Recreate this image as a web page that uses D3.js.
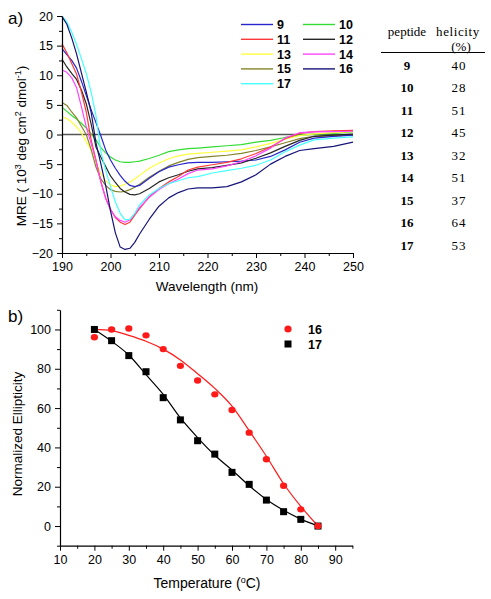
<!DOCTYPE html>
<html><head><meta charset="utf-8">
<script src="https://cdn.jsdelivr.net/npm/d3@7/dist/d3.min.js"></script>
<style>body{margin:0;background:#fff}svg{display:block}</style>
</head><body><svg id="c" width="491" height="599"></svg>
<script>
// ---------- data: panel a (CD spectra) ----------
const wavelengths=[190,191,192,193,194,195,196,197,198,199,200,201,202,203,204,205,206,208,210,212,214,216,218,221,224,227,230,233,236,239,242,246,250];
const mre9 =[14.5,13.5,12.5,11.2,9.0,6.6,4.2,2.0,-0.2,-2.6,-4.3,-5.7,-6.9,-7.9,-8.6,-8.8,-8.6,-7.4,-6.3,-5.5,-5.1,-4.8,-4.7,-4.7,-4.6,-4.5,-4.3,-3.7,-2.6,-1.3,-0.6,-0.3,-0.1];
const mre10=[4.6,3.9,3.2,2.6,1.9,1.1,0.1,-0.9,-2.2,-3.1,-3.8,-4.3,-4.6,-4.7,-4.7,-4.6,-4.5,-4.05,-3.5,-2.9,-2.6,-2.4,-2.3,-2.1,-1.9,-1.7,-1.3,-1.0,-0.5,-0.1,0.05,0.2,0.45];
const mre11=[15.3,13.8,12.0,10.2,7.2,3.8,-0.9,-4.3,-7.9,-10.7,-12.6,-14.0,-14.8,-15.2,-14.8,-13.6,-12.5,-10.5,-9.1,-8.0,-7.1,-6.0,-5.5,-5.1,-4.7,-4.1,-3.2,-2.1,-0.7,0.2,0.5,0.6,0.7];
const mre12=[12.7,11.4,10.3,9.3,7.5,5.2,1.8,-2.1,-3.8,-5.4,-7.0,-8.1,-9.1,-9.7,-10.1,-10.2,-10.0,-9.1,-8.0,-7.3,-6.8,-6.2,-5.8,-5.6,-5.2,-4.8,-4.0,-3.1,-2.0,-1.0,-0.3,-0.1,0.05];
const mre13=[3.0,2.7,2.1,1.3,0.3,-1.2,-2.6,-4.6,-6.6,-7.8,-8.5,-8.8,-8.7,-8.4,-8.0,-7.5,-6.9,-5.7,-4.8,-4.1,-3.6,-3.3,-3.2,-3.0,-2.8,-2.6,-2.1,-1.5,-0.8,-0.2,0.1,0.3,0.5];
const mre14=[10.9,10.5,9.6,7.9,4.7,1.3,-1.5,-4.4,-8.0,-10.8,-12.7,-13.9,-14.5,-14.8,-14.4,-13.4,-12.3,-10.6,-9.3,-8.3,-7.5,-6.6,-6.0,-5.8,-5.3,-4.6,-3.6,-2.3,-0.6,0.3,0.45,0.5,0.55];
const mre15=[5.4,4.9,3.8,2.8,1.4,0.0,-2.5,-5.5,-7.5,-8.6,-9.3,-9.6,-9.7,-9.6,-9.3,-8.9,-8.4,-7.2,-6.2,-5.3,-4.7,-4.2,-3.9,-3.7,-3.5,-3.2,-2.7,-2.1,-1.4,-0.7,-0.3,-0.2,-0.1];
const mre16=[19.9,18.6,16.3,13.6,10.4,7.2,3.8,-1.4,-4.9,-8.6,-12.9,-16.6,-19.0,-19.4,-19.2,-18.2,-16.8,-14.3,-12.1,-10.7,-9.8,-9.2,-9.0,-9.0,-8.8,-8.0,-6.8,-5.0,-3.7,-2.7,-2.4,-2.0,-1.3];
const mre17=[20.0,19.0,17.3,15.2,12.8,10.3,7.2,3.2,-2.8,-6.0,-8.8,-11.4,-13.3,-14.4,-14.3,-13.3,-11.9,-10.2,-9.1,-8.3,-7.8,-7.3,-7.1,-6.5,-6.1,-5.7,-5.2,-4.3,-2.9,-1.8,-0.9,-0.6,-0.4];
const seriesNames=["9","10","11","12","13","14","15","16","17"];
const seriesColors=["#2626cc","#33dd33","#ff3838","#262626","#ffff3c","#ff44ff","#84842a","#161478","#44ffff"];
const aXTicks=[190,200,210,220,230,240,250];
const aYTicks=[-20,-15,-10,-5,0,5,10,15,20];

// ---------- table ----------
const tablePeptides=["9","10","11","12","13","14","15","16","17"];
const tableHelicity=[40,28,51,45,32,51,37,64,53];

// ---------- data: panel b (thermal melts) ----------
const temps=[20,25,30,35,40,45,50,55,60,65,70,75,80,85];
const ell16=[96,100,100.5,97,90,81.5,74,67,59,47.5,34,20.5,8.5,0];
const ell17=[100,94.3,86.7,78.5,65.3,54,43.4,36.6,27.3,21.2,13.2,7.3,3.4,0];
const fit16=[100,99.4,97,94,90,84.5,77.5,70,61,48.5,35.5,21.5,10,0];
const fit17=[100,94,87,77,67,55,45,36,28.5,20.5,13.5,8,3.5,0];
const bXTicks=[10,20,30,40,50,60,70,80,90];
const bYTicks=[0,20,40,60,80,100];

const svg=d3.select("#c");
const AX="Liberation Sans, Arial, sans-serif";
const SERIF="Liberation Serif, Times New Roman, serif";

function styleAxis(g){
  g.selectAll("path").attr("stroke","#000").attr("stroke-width",1.2);
  g.selectAll("line").attr("stroke","#000").attr("stroke-width",1);
  g.selectAll("text").attr("font-family",AX).attr("font-size","12.5px").attr("fill","#000");
}

// ================= Panel a =================
const xa=d3.scaleLinear().domain([190,250]).range([62,353]);
const ya=d3.scaleLinear().domain([-20,20]).range([253,16]);

svg.append("line").attr("x1",xa(190)).attr("x2",xa(250)).attr("y1",ya(0)).attr("y2",ya(0))
  .attr("stroke","#555").attr("stroke-width",1.3);

const mreAll=[mre9,mre10,mre11,mre12,mre13,mre14,mre15,mre16,mre17];
const lineA=d3.line().x((d,i)=>xa(wavelengths[i])).y(d=>ya(d));
const drawOrder=[1,4,6,0,3,2,5,8,7];
drawOrder.forEach(k=>{
  svg.append("path").datum(mreAll[k]).attr("d",lineA).attr("fill","none")
    .attr("stroke",seriesColors[k]).attr("stroke-width",1.2).attr("stroke-linejoin","round");
});

const gxa=svg.append("g").attr("transform",`translate(0,${ya(-20)})`)
  .call(d3.axisBottom(xa).tickValues(aXTicks).tickSize(5).tickPadding(4).tickSizeOuter(0).tickFormat(d3.format("d")));
styleAxis(gxa);
const gxam=svg.append("g").attr("transform",`translate(0,${ya(-20)})`)
  .call(d3.axisBottom(xa).tickValues(d3.range(195,250,10)).tickSize(3).tickFormat(""));
gxam.select("path").remove(); styleAxis(gxam);
const gya=svg.append("g").attr("transform",`translate(${xa(190)},0)`)
  .call(d3.axisLeft(ya).tickValues(aYTicks).tickSize(5).tickPadding(4).tickSizeOuter(0).tickFormat(d3.format("d")));
styleAxis(gya);
const gyam=svg.append("g").attr("transform",`translate(${xa(190)},0)`)
  .call(d3.axisLeft(ya).tickValues(d3.range(-17.5,20,5)).tickSize(3).tickFormat(""));
gyam.select("path").remove(); styleAxis(gyam);

svg.append("text").attr("x",207).attr("y",291).attr("text-anchor","middle")
  .attr("font-family",AX).attr("font-size","13.5px").text("Wavelength (nm)");
const yt=svg.append("text").attr("transform","translate(26,146) rotate(-90)").attr("text-anchor","middle")
  .attr("font-family",AX).attr("font-size","13.5px");
yt.append("tspan").text("MRE ( 10");
yt.append("tspan").attr("dy",-5).attr("font-size","9px").text("3");
yt.append("tspan").attr("dy",5).text(" deg cm");
yt.append("tspan").attr("dy",-5).attr("font-size","9px").text("2");
yt.append("tspan").attr("dy",5).text(" dmol");
yt.append("tspan").attr("dy",-5).attr("font-size","9px").text("-1");
yt.append("tspan").attr("dy",5).text(")");

svg.append("text").attr("x",8).attr("y",24).attr("font-family",AX).attr("font-size","17px").text("a)");

seriesNames.forEach((n,i)=>{
  const col=i%2, row=Math.floor(i/2);
  const lx=col===0?241:303, ly=24.5+row*14.8;
  svg.append("line").attr("x1",lx).attr("x2",lx+32).attr("y1",ly).attr("y2",ly)
    .attr("stroke",seriesColors[i]).attr("stroke-width",1.4);
  svg.append("text").attr("x",lx+36).attr("y",ly+4.5).attr("font-family",AX)
    .attr("font-weight","bold").attr("font-size","12.5px").text(n);
});

svg.append("text").attr("x",407).attr("y",36).attr("text-anchor","middle")
  .attr("font-family",SERIF).attr("font-size","13px").text("peptide");
svg.append("text").attr("x",458).attr("y",36).attr("text-anchor","middle")
  .attr("font-family",SERIF).attr("font-size","13px").attr("letter-spacing","0.6px").text("helicity");
svg.append("text").attr("x",461).attr("y",51).attr("text-anchor","middle")
  .attr("font-family",SERIF).attr("font-size","13px").text("(%)");
svg.append("line").attr("x1",381).attr("x2",485).attr("y1",52.5).attr("y2",52.5)
  .attr("stroke","#000").attr("stroke-width",1.2);
tablePeptides.forEach((p,i)=>{
  const yy=69.5+i*22.5;
  svg.append("text").attr("x",407).attr("y",yy).attr("text-anchor","middle")
    .attr("font-family",SERIF).attr("font-weight","bold").attr("font-size","13px").text(p);
  svg.append("text").attr("x",459).attr("y",yy).attr("text-anchor","middle")
    .attr("font-family",SERIF).attr("font-size","13px").attr("letter-spacing","1px").text(tableHelicity[i]);
});

// ================= Panel b =================
const xb=d3.scaleLinear().domain([10,95]).range([60,352.4]);
const yb=d3.scaleLinear().domain([-10,110]).range([545.7,309.8]);

const lineB=d3.line().curve(d3.curveMonotoneX).x((d,i)=>xb(temps[i])).y(d=>yb(d));
svg.append("path").datum(fit17).attr("d",lineB).attr("fill","none").attr("stroke","#000").attr("stroke-width",1.2);
svg.append("path").datum(fit16).attr("d",lineB).attr("fill","none").attr("stroke","#ff1a1a").attr("stroke-width",1.2);

svg.selectAll(".p17").data(ell17).enter().append("rect")
  .attr("x",(d,i)=>xb(temps[i])-3.5).attr("y",d=>yb(d)-3.5).attr("width",7).attr("height",7).attr("fill","#000");
svg.selectAll(".p16").data(ell16).enter().append("ellipse")
  .attr("cx",(d,i)=>xb(temps[i])).attr("cy",d=>yb(d)).attr("rx",3.6).attr("ry",3.2).attr("fill","#ff1a1a");

const gxb=svg.append("g").attr("transform",`translate(0,${yb(-10)})`)
  .call(d3.axisBottom(xb).tickValues(bXTicks).tickSize(5).tickPadding(4).tickSizeOuter(0).tickFormat(d3.format("d")));
styleAxis(gxb);
const gxbm=svg.append("g").attr("transform",`translate(0,${yb(-10)})`)
  .call(d3.axisBottom(xb).tickValues(d3.range(15,100,10)).tickSize(3).tickFormat(""));
gxbm.select("path").remove(); styleAxis(gxbm);
const gyb=svg.append("g").attr("transform",`translate(${xb(10)},0)`)
  .call(d3.axisLeft(yb).tickValues(bYTicks).tickSize(5).tickPadding(4).tickSizeOuter(0).tickFormat(d3.format("d")));
styleAxis(gyb);
const gybm=svg.append("g").attr("transform",`translate(${xb(10)},0)`)
  .call(d3.axisLeft(yb).tickValues([-10,10,30,50,70,90,110]).tickSize(3).tickFormat(""));
gybm.select("path").remove(); styleAxis(gybm);

const tt=svg.append("text").attr("x",207).attr("y",588).attr("text-anchor","middle")
  .attr("font-family",AX).attr("font-size","14px");
tt.append("tspan").text("Temperature (");
tt.append("tspan").attr("dy",-5).attr("font-size","9px").text("o");
tt.append("tspan").attr("dy",5).text("C)");
svg.append("text").attr("transform","translate(22,434) rotate(-90)").attr("text-anchor","middle")
  .attr("font-family",AX).attr("font-size","13.5px").text("Normalized Ellipticity");
svg.append("text").attr("x",8).attr("y",322).attr("font-family",AX).attr("font-size","17px").text("b)");

svg.append("ellipse").attr("cx",288).attr("cy",329).attr("rx",3.6).attr("ry",3.6).attr("fill","#ff1a1a");
svg.append("text").attr("x",308).attr("y",333.5).attr("font-family",AX).attr("font-weight","bold").attr("font-size","12.5px").text("16");
svg.append("rect").attr("x",284.5).attr("y",340.5).attr("width",7).attr("height",7).attr("fill","#000");
svg.append("text").attr("x",308).attr("y",348.5).attr("font-family",AX).attr("font-weight","bold").attr("font-size","12.5px").text("17");
</script></body></html>
